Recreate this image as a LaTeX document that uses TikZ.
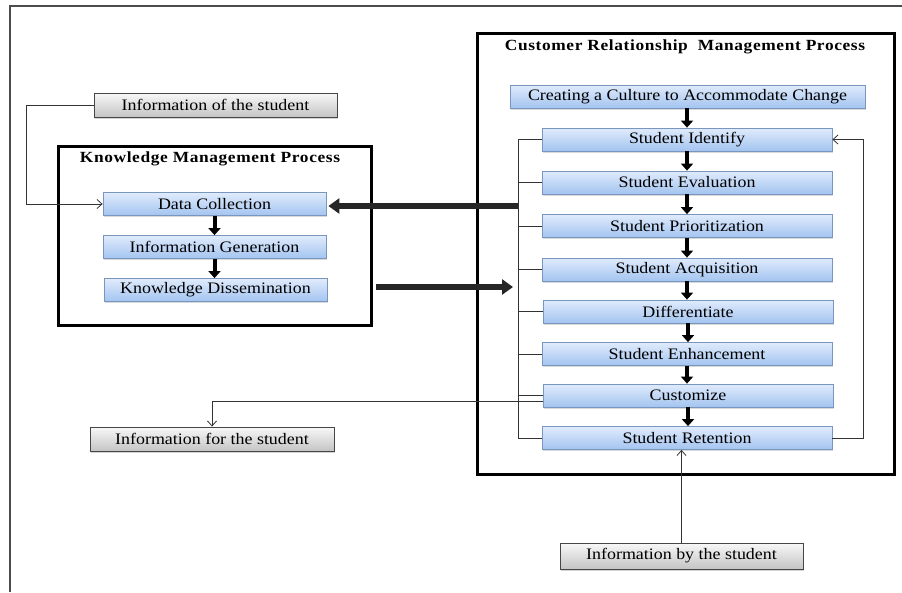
\documentclass[tikz,border=0pt]{standalone}
\usepackage{fontspec}
\setmainfont{Liberation Serif}[FakeStretch=1.12]
\newfontfamily\titlefamily{Liberation Serif}[FakeStretch=1.12, LetterSpace=4]
\usetikzlibrary{arrows.meta,shadows,calc}
\definecolor{bluetop}{RGB}{224,235,252}
\definecolor{bluebot}{RGB}{163,196,240}
\definecolor{blueborder}{RGB}{120,150,190}
\definecolor{grayborder}{RGB}{70,70,70}
\definecolor{graytop}{RGB}{248,248,248}
\definecolor{graybot}{RGB}{196,196,196}
\begin{document}
\begin{tikzpicture}[x=1pt,y=-1pt,
  font=\fontsize{16}{19}\selectfont,
  bluebox/.style={draw=blueborder, line width=0.8pt, top color=bluetop, bottom color=bluebot,
    minimum height=23pt, inner sep=0pt,
    drop shadow={shadow xshift=1.2pt, shadow yshift=-1.6pt, opacity=0.3}},
  graybox/.style={draw=grayborder, line width=0.9pt, top color=graytop, bottom color=graybot,
    minimum width=243pt, minimum height=24pt, inner sep=0pt,
    drop shadow={shadow xshift=1.2pt, shadow yshift=-1.6pt, opacity=0.35}},
  frameboxstyle/.style={draw=black, line width=3pt, inner sep=0pt},
  downarrow/.style={draw=black, line width=4pt, -{Triangle[length=7pt,width=12pt]}},
  bigarrow/.style={draw=black!85, line width=5.5pt, -{Triangle[length=11pt,width=15pt]}},
  thinline/.style={draw=black!80, line width=0.8pt},
  openarrow/.style={thinline, -{Straight Barb[length=5pt,width=9pt]}},
  titletext/.style={font=\titlefamily\bfseries\fontsize{15.5}{18}\selectfont}
]
\useasboundingbox (0,0) rectangle (902,592);
% outer frame lines
\draw[draw=black!70, line width=1.5pt] (10,592) -- (10,6) -- (902,6);

% ---------- Knowledge Management Process ----------
\node[frameboxstyle, minimum width=313pt, minimum height=179pt] (kmp) at (214.5,235.5) {};
\node[titletext] (kmpt) at (210,159) {Knowledge Management Process};
\node[bluebox, minimum width=223pt] (dc) at (214.5,204) {Data Collection};
\node[bluebox, minimum width=223pt] (ig) at (214.5,247) {Information Generation};
\node[bluebox, minimum width=223pt] (kd) at (215.5,290) {Knowledge Dissemination};
\draw[downarrow] (dc.south) -- (ig.north);
\draw[downarrow] (ig.south) -- (ig.south |- kd.north);

% ---------- Customer Relationship Management Process ----------
\node[frameboxstyle, minimum width=417pt, minimum height=441pt] (crm) at (685.5,253.5) {};
\node[titletext] (crmt) at (685,47) {Customer Relationship\hspace{5pt} Management Process};
\node[bluebox, minimum width=355pt] (cc) at (687.5,96.5) {Creating a Culture to Accommodate Change};
\node[bluebox, minimum width=290pt] (s1) at (687,139.5) {Student Identify};
\node[bluebox, minimum width=290pt] (s2) at (687,182.5) {Student Evaluation};
\node[bluebox, minimum width=290pt] (s3) at (687,226) {Student Prioritization};
\node[bluebox, minimum width=290pt] (s4) at (687,269.5) {Student Acquisition};
\node[bluebox, minimum width=290pt] (s5) at (688,311.5) {Differentiate};
\node[bluebox, minimum width=290pt] (s6) at (687,354) {Student Enhancement};
\node[bluebox, minimum width=290pt] (s7) at (688,395.5) {Customize};
\node[bluebox, minimum width=290pt] (s8) at (687,438) {Student Retention};

\draw[downarrow] (cc.south -| s1.north) -- (s1.north);
\foreach \a/\b in {s1/s2,s2/s3,s3/s4,s4/s5,s5/s6,s6/s7,s7/s8}
  \draw[downarrow] (\a.south) -- (\a.south |- \b.north);

% left bracket
\coordinate (brx) at (518,139.5);
\coordinate (rgx) at (863,139.5);
\foreach \s in {s1,s2,s3,s4,s5,s6,s7,s8}
  \draw[thinline] (\s.west) -- (\s.west -| brx);
\draw[thinline] (s1.west -| brx) -- (s8.west -| brx);

% right loop from retention to identify
\draw[openarrow] (s8.east) -- (s8.east -| rgx) -- (s1.east -| rgx) -- (s1.east);

% big arrows between the processes
\draw[bigarrow] ([yshift=-2pt]dc.east -| brx) -- ([xshift=2pt,yshift=-2pt]dc.east);
\draw[bigarrow] ([xshift=3pt,yshift=3pt]kd.east -| kmp.east) -- ([xshift=-5pt,yshift=3pt]kd.east -| brx);

% ---------- information boxes ----------
\node[graybox] (inf1) at (215.5,105) {Information of the student};
\node[graybox, minimum width=244pt] (inf2) at (212,439) {Information for the student};
\node[graybox, minimum height=26pt] (inf3) at (681.5,556) {Information by the student};

\coordinate (lx) at (26,105);
\draw[openarrow] (inf1.west) -- (lx) |- (dc.west);
\draw[openarrow] ([yshift=-5.5pt]s7.west) -| (inf2.north);
\draw[openarrow] (inf3.north) -- (inf3.north |- s8.south);
\end{tikzpicture}
\end{document}
